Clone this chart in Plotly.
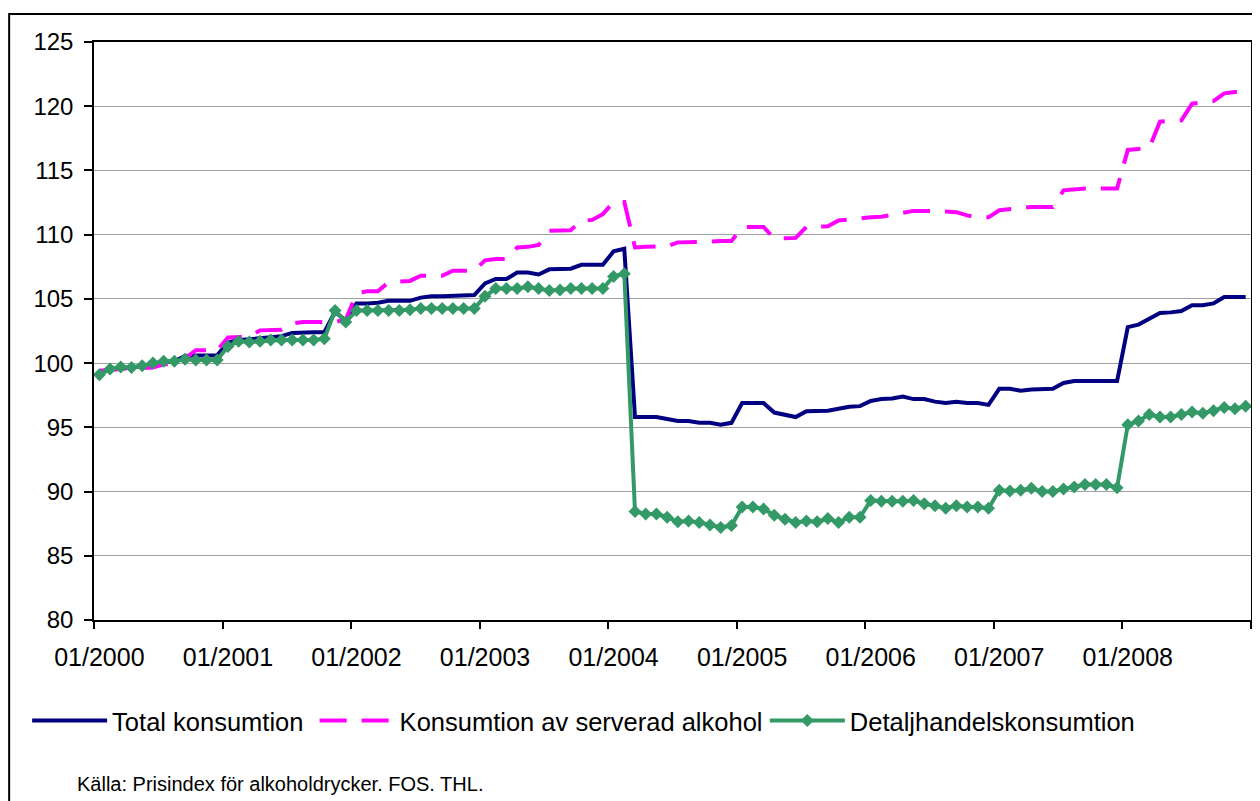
import plotly.graph_objects as go

# monthly categories 01/2000 .. 12/2008
months = [f"{m:02d}/{y}" for y in range(2000, 2009) for m in range(1, 13)]

total = [
    99.2, 99.5, 99.6, 99.65, 99.75, 99.95, 100.1, 100.15, 100.55, 100.6, 100.6, 100.6,
    101.6, 101.8, 101.85, 101.95, 102.05, 102.1, 102.35, 102.4, 102.4, 102.4, 104.0, 103.3,
    104.65, 104.65, 104.7, 104.85, 104.85, 104.85, 105.1, 105.2, 105.2, 105.25, 105.3, 105.3,
    106.2, 106.55, 106.55, 107.05, 107.05, 106.9, 107.3, 107.35, 107.35, 107.65, 107.65, 107.65,
    108.7, 108.9, 95.8, 95.8, 95.8, 95.65, 95.5, 95.5, 95.35, 95.35, 95.2, 95.35,
    96.9, 96.9, 96.9, 96.15, 95.95, 95.8, 96.25, 96.25, 96.3, 96.45, 96.6, 96.65,
    97.05, 97.2, 97.25, 97.4, 97.2, 97.2, 97.0, 96.9, 97.0, 96.9, 96.9, 96.75,
    98.0, 98.0, 97.85, 97.95, 98.0, 98.0, 98.45, 98.6, 98.6, 98.6, 98.6, 98.6,
    102.8, 103.0, 103.45, 103.9, 103.95, 104.05, 104.5, 104.5, 104.65, 105.15, 105.15, 105.15,
]

serverad = [
    99.4, 99.5, 99.55, 99.6, 99.65, 99.65, 99.9, 100.0, 100.35, 101.0, 101.0, 101.0,
    102.0, 102.05, 102.05, 102.55, 102.55, 102.6, 103.1, 103.2, 103.2, 103.2, 103.2, 103.4,
    105.4, 105.6, 105.6, 106.3, 106.35, 106.4, 106.8, 106.8, 106.8, 107.2, 107.2, 107.2,
    108.0, 108.1, 108.1, 109.0, 109.05, 109.2, 110.3, 110.3, 110.35, 111.1, 111.15, 111.6,
    112.55, 112.55, 109.0, 109.05, 109.05, 109.1, 109.4, 109.4, 109.4, 109.45, 109.5, 109.5,
    110.6, 110.6, 110.6, 109.7, 109.7, 109.75, 110.6, 110.6, 110.65, 111.1, 111.2, 111.25,
    111.35, 111.4, 111.55, 111.75, 111.85, 111.85, 111.85, 111.8, 111.75, 111.5, 111.35, 111.35,
    111.9, 112.0, 112.1, 112.15, 112.15, 112.15, 113.45, 113.55, 113.6, 113.6, 113.6, 113.6,
    116.6, 116.7, 116.75, 118.8, 118.85, 118.9, 120.2, 120.3, 120.4, 121.0, 121.1, 121.1,
]

detalj = [
    99.1, 99.55, 99.7, 99.65, 99.8, 100.0, 100.15, 100.15, 100.3, 100.25, 100.25, 100.25,
    101.3, 101.7, 101.65, 101.7, 101.8, 101.8, 101.8, 101.8, 101.8, 101.9, 104.1, 103.2,
    104.1, 104.1, 104.1, 104.1, 104.1, 104.15, 104.25, 104.25, 104.25, 104.25, 104.25, 104.25,
    105.2, 105.8, 105.8, 105.8, 105.95, 105.8, 105.65, 105.7, 105.8, 105.8, 105.8, 105.8,
    106.75, 106.95, 88.45, 88.25, 88.25, 88.0, 87.65, 87.7, 87.6, 87.4, 87.2, 87.35,
    88.8, 88.8, 88.65, 88.15, 87.85, 87.6, 87.7, 87.65, 87.9, 87.6, 88.0, 88.0,
    89.3, 89.25, 89.25, 89.25, 89.3, 89.05, 88.9, 88.7, 88.9, 88.8, 88.8, 88.7,
    90.1, 90.05, 90.1, 90.25, 90.0, 90.0, 90.2, 90.35, 90.55, 90.55, 90.55, 90.3,
    95.2, 95.5, 96.0, 95.8, 95.8, 96.0, 96.2, 96.1, 96.3, 96.55, 96.45, 96.65,
]

y_ticks = [80, 85, 90, 95, 100, 105, 110, 115, 120, 125]

# the page puts the figure 8 px in from the top-left corner
OFF = 8
W, H = 1260 - OFF, 801 - OFF
L, R, T, B = 94 - OFF, 1253 - OFF, 42 - OFF, 620 - OFF  # plot area in px


def px(x):
    return (x - OFF - L) / (R - L)


def py(y):
    return (B - (y - OFF)) / (B - T)


xs = list(range(len(months)))
label_idx = [i for i, m in enumerate(months) if m.startswith("01/")]

fig = go.Figure()
fig.add_trace(go.Scatter(
    x=xs, y=total, mode="lines", name="Total konsumtion",
    line=dict(color="#000080", width=4), legend="legend",
))
fig.add_trace(go.Scatter(
    x=xs, y=serverad, mode="lines", name="Konsumtion av serverad alkohol",
    line=dict(color="#FF00FF", width=4, dash="27px,15px"), legend="legend2",
))
fig.add_trace(go.Scatter(
    x=xs, y=detalj, mode="lines+markers", name="Detaljhandelskonsumtion",
    line=dict(color="#339966", width=4),
    marker=dict(symbol="diamond", size=10, color="#339966"), legend="legend3",
))

font = dict(family="Liberation Sans, Arial, sans-serif", size=24, color="#000000")
leg_common = dict(orientation="h", xanchor="left", yanchor="middle",
                  bgcolor="rgba(0,0,0,0)", font=dict(size=25.5, family=font["family"]),
                  itemwidth=75, borderwidth=0)

fig.update_layout(
    width=W, height=H,
    margin=dict(l=L, r=W - R, t=T, b=H - B),
    paper_bgcolor="white", plot_bgcolor="white",
    font=font,
    showlegend=True,
    legend=dict(x=px(27), y=py(721), **leg_common),
    legend2=dict(x=px(315), y=py(721), **leg_common),
    legend3=dict(x=px(766), y=py(721), **leg_common),
)

fig.update_xaxes(
    range=[-0.5, len(months) - 0.5],
    tickmode="array",
    tickvals=label_idx,
    ticktext=[months[i] for i in label_idx],
    ticks="",
    ticklabelstandoff=14,
    showgrid=False, zeroline=False,
    showline=True, linecolor="black", linewidth=1.5, mirror=True,
    minor=dict(tickmode="array",
               tickvals=[i - 0.5 for i in label_idx] + [len(months) - 0.5],
               ticks="outside", ticklen=7, tickcolor="black", tickwidth=1.5,
               showgrid=False),
    tickfont=dict(size=25),
)
fig.update_yaxes(
    range=[80, 125],
    tickmode="array", tickvals=y_ticks,
    ticks="outside", ticklen=8, tickcolor="black", tickwidth=1.5,
    ticklabelstandoff=6,
    showgrid=True, gridcolor="#A0A0A0", gridwidth=1.2,
    zeroline=False,
    showline=True, linecolor="black", linewidth=1.5, mirror=True,
    tickfont=dict(size=24),
)

# outer chart frame
fig.add_shape(type="rect", xref="paper", yref="paper",
              x0=px(9), x1=px(1275), y0=py(14), y1=py(820),
              line=dict(color="black", width=2), fillcolor="rgba(0,0,0,0)",
              layer="above")

fig.add_annotation(
    text="Källa: Prisindex för alkoholdrycker. FOS. THL.",
    xref="paper", yref="paper", x=px(75), y=py(784),
    xanchor="left", yanchor="middle", showarrow=False,
    font=dict(size=20, family=font["family"]),
)

fig.write_html("out.html")
